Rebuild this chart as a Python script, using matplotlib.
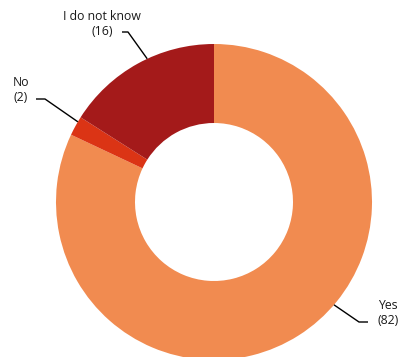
import numpy as np
import matplotlib
matplotlib.use("Agg")
import matplotlib.pyplot as plt

labels = ["Yes", "No", "I do not know"]
values = [82, 2, 16]
colors = ["#F18B50", "#DB3415", "#A41A1A"]

W, H = 399, 357
fig = plt.figure(figsize=(W / 100, H / 100), dpi=100)
ax = fig.add_axes([0, 0, 1, 1])
ax.set_xlim(0, W)
ax.set_ylim(0, H)
ax.set_aspect("equal")
ax.axis("off")

cx, cy, R = 214, H - 202, 158
wedges, _ = ax.pie(values, colors=colors, startangle=90, counterclock=False,
                   radius=R, center=(cx, cy), frame=True,
                   wedgeprops=dict(width=R * 0.5, linewidth=0))
ax.set_xlim(0, W)
ax.set_ylim(0, H)
ax.axis("off")

# label layout: (anchor angle on outer edge, elbow point, text end, text pos, ha)
layout = {
    "I do not know": (115, (128, 32), (122, 32), (102, 24), "center"),
    "No": (149.5, (45, 99), (36, 99), (13, 90), "left"),
    "Yes": (-40.6, (359, 322), (368, 322), (378, 313), "left"),
}
for lab, val in zip(labels, values):
    ang, elbow, end, tpos, ha = layout[lab]
    a = np.deg2rad(ang)
    px, py = cx + R * np.cos(a), cy + R * np.sin(a)
    ax.plot([px, elbow[0], end[0]], [py, H - elbow[1], H - end[1]],
            color="black", lw=1.0, solid_capstyle="butt")
    ax.text(tpos[0], H - tpos[1], f"{lab}\n({val})", ha=ha, va="center",
            fontsize=8.8, family="Open Sans", linespacing=1.22, color="#1a1a1a",
            multialignment="center" if ha == "center" else "left")

fig.savefig("out.png", dpi=100)
